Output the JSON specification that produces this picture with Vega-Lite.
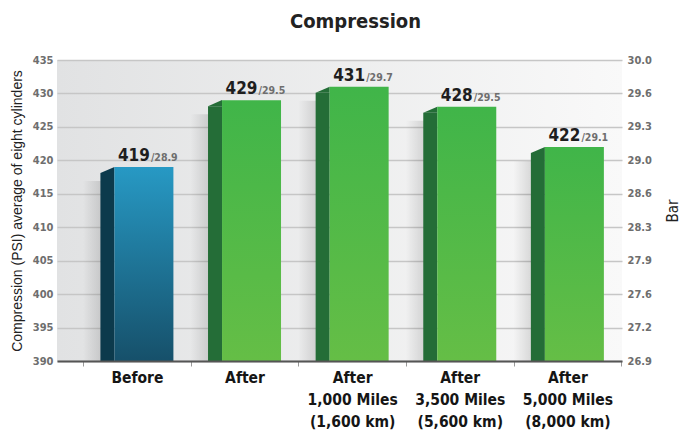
{
  "$schema": "https://vega.github.io/schema/vega-lite/v6.json",
  "autosize": "none",
  "width": 565,
  "height": 301,
  "padding": {"left": 57, "top": 60, "right": 59, "bottom": 69},
  "background": "white",
  "title": {
    "text": "Compression",
    "font": "DejaVu Sans Condensed, sans-serif",
    "fontSize": 20,
    "fontWeight": "bold",
    "color": "#222222",
    "anchor": "middle",
    "dx": 16,
    "offset": 22
  },
  "config": {
    "view": {
      "stroke": null,
      "fill": {
        "gradient": "linear",
        "x1": 0, "y1": 0, "x2": 1, "y2": 0,
        "stops": [
          {"offset": 0, "color": "#e1e2e3"},
          {"offset": 1, "color": "#f9f9f9"}
        ]
      }
    },
    "font": "DejaVu Sans Condensed, sans-serif"
  },
  "data": {
    "values": [
      {"stage": "Before", "psi": 419, "bar": 28.9, "group": "before"},
      {"stage": "After", "psi": 429, "bar": 29.5, "group": "after"},
      {"stage": "After\n1,000 Miles\n(1,600 km)", "psi": 431, "bar": 29.7, "group": "after"},
      {"stage": "After\n3,500 Miles\n(5,600 km)", "psi": 428, "bar": 29.5, "group": "after"},
      {"stage": "After\n5,000 Miles\n(8,000 km)", "psi": 422, "bar": 29.1, "group": "after"}
    ]
  },
  "encoding": {
    "x": {
      "field": "stage",
      "type": "nominal",
      "sort": null,
      "scale": {"paddingInner": 0, "paddingOuter": 0.125, "align": 0.97},
      "axis": {
        "title": null,
        "labelAngle": 0,
        "labelExpr": "split(datum.label, '\\n')",
        "labelFontSize": 15.5,
        "labelFontWeight": "bold",
        "labelColor": "#151515",
        "labelLineHeight": 22,
        "labelPadding": 4,
        "tickBand": "extent",
        "ticks": true,
        "tickSize": 5,
        "tickColor": "#999999",
        "domainColor": "#555555",
        "domainWidth": 2,
        "grid": false,
        "zindex": 1
      }
    },
    "y": {
      "field": "psi",
      "type": "quantitative",
      "scale": {"domain": [390, 435], "nice": false, "zero": false},
      "axis": null
    }
  },
  "layer": [
    {
      "mark": {
        "type": "bar",
        "width": 18,
        "xOffset": -45,
        "yOffset": 14,
        "clip": true,
        "color": {
          "gradient": "linear",
          "x1": 0, "y1": 0, "x2": 1, "y2": 0,
          "stops": [
            {"offset": 0, "color": "rgba(0,0,0,0)"},
            {"offset": 1, "color": "rgba(0,0,0,0.12)"}
          ]
        }
      },
      "encoding": {"y2": {"datum": 390}}
    },
    {
      "mark": {"type": "bar", "width": 14, "xOffset": -29.5, "yOffset": 6, "clip": true},
      "encoding": {
        "y2": {"datum": 390},
        "color": {
          "field": "group",
          "type": "nominal",
          "scale": {"domain": ["before", "after"], "range": ["#0c3a4c", "#246d37"]},
          "legend": null
        }
      }
    },
    {
      "mark": {
        "type": "point",
        "shape": "M-1,0.43L1,-0.43L1,0.43Z",
        "size": 196,
        "filled": true,
        "opacity": 1,
        "strokeWidth": 0,
        "xOffset": -29.5,
        "yOffset": 3
      },
      "encoding": {
        "color": {
          "field": "group",
          "type": "nominal",
          "scale": {"domain": ["before", "after"], "range": ["#0c3a4c", "#246d37"]},
          "legend": null
        }
      }
    },
    {
      "transform": [{"filter": "datum.group === 'before'"}],
      "mark": {
        "type": "bar",
        "width": 59,
        "xOffset": 7,
        "color": {
          "gradient": "linear",
          "x1": 0, "y1": 0, "x2": 0, "y2": 1,
          "stops": [
            {"offset": 0, "color": "#2799c4"},
            {"offset": 1, "color": "#16506a"}
          ]
        }
      },
      "encoding": {
        "y2": {"datum": 390},
        "y": {
          "field": "psi",
          "type": "quantitative",
          "axis": {
            "orient": "left",
            "title": "Compression (PSI) average of eight cylinders",
            "titleFont": "Liberation Sans, Arial, sans-serif",
            "titleFontSize": 14,
            "titleFontWeight": "normal",
            "titleColor": "#222222",
            "titlePadding": 8,
            "values": [390, 395, 400, 405, 410, 415, 420, 425, 430, 435],
            "labelFontSize": 11,
            "labelFontWeight": "bold",
            "labelColor": "#6e6e6e",
            "labelPadding": 4,
            "ticks": false,
            "domain": false,
            "grid": true,
            "gridColor": "#c6c6c6",
            "gridWidth": 1.5
          }
        }
      }
    },
    {
      "transform": [{"filter": "datum.group === 'after'"}],
      "mark": {
        "type": "bar",
        "width": 59,
        "xOffset": 7,
        "color": {
          "gradient": "linear",
          "x1": 0, "y1": 0, "x2": 0, "y2": 1,
          "stops": [
            {"offset": 0, "color": "#40b549"},
            {"offset": 1, "color": "#65be46"}
          ]
        }
      },
      "encoding": {"y2": {"datum": 390}}
    },
    {
      "mark": {
        "type": "text",
        "align": "right",
        "baseline": "alphabetic",
        "dx": 13,
        "dy": -6,
        "fontSize": 17,
        "fontWeight": "bold",
        "color": "#1e1e1e"
      },
      "encoding": {"text": {"field": "psi", "type": "quantitative"}}
    },
    {
      "mark": {
        "type": "text",
        "align": "left",
        "baseline": "alphabetic",
        "dx": 14,
        "dy": -6,
        "fontSize": 10.5,
        "fontWeight": "bold",
        "color": "#6e6e6e",
        "text": {"expr": "'/' + format(datum.bar, '.1f')"}
      },
      "encoding": {
        "y": {
          "field": "psi",
          "type": "quantitative",
          "axis": {
            "orient": "right",
            "title": "Bar",
            "titleFontSize": 15,
            "titleFontWeight": "normal",
            "titleColor": "#222222",
            "titleAngle": 270,
            "titlePadding": 29,
            "values": [390, 395, 400, 405, 410, 415, 420, 425, 430, 435],
            "labelExpr": "format(datum.value * 0.0689476, '.1f')",
            "labelFontSize": 11,
            "labelFontWeight": "bold",
            "labelColor": "#6e6e6e",
            "labelPadding": 5,
            "ticks": false,
            "domain": false,
            "grid": false
          }
        }
      }
    }
  ]
}
